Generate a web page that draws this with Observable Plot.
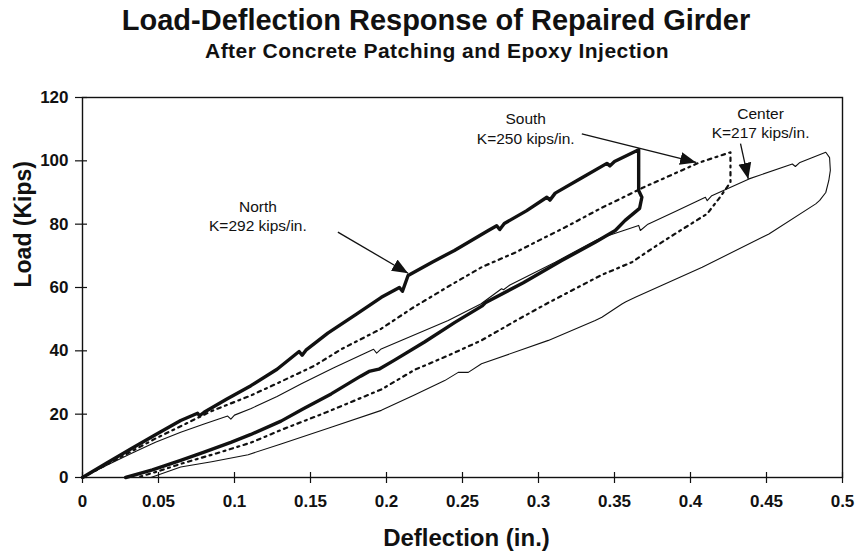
<!DOCTYPE html>
<html>
<head>
<meta charset="utf-8">
<script src="https://cdn.jsdelivr.net/npm/d3@7"></script>
<script src="https://cdn.jsdelivr.net/npm/@observablehq/plot@0.6"></script>
<style>
  html, body { margin: 0; padding: 0; background: #fff; }
  body { width: 858px; height: 560px; position: relative; overflow: hidden; font-family: "Liberation Sans", Arial, sans-serif; color: #111; }
  #head { position: relative; height: 70px; }
  #title { position: absolute; left: 0; width: 872px; top: 6px; text-align: center; font-size: 29px; line-height: 29px; font-weight: bold; }
  #subtitle { position: absolute; left: 0; width: 874px; top: 40px; text-align: center; font-size: 21px; line-height: 21px; font-weight: bold; letter-spacing: 0.45px; }
  #chart svg { display: block; }
</style>
</head>
<body>
<div id="head">
  <div id="title"></div>
  <div id="subtitle"></div>
</div>
<div id="chart"></div>
<script>
const titleText = "Load-Deflection Response of Repaired Girder";
const subtitleText = "After Concrete Patching and Epoxy Injection";
const xLabel = "Deflection (in.)";
const yLabel = "Load (Kips)";

const xTicks = [0, 0.05, 0.1, 0.15, 0.2, 0.25, 0.3, 0.35, 0.4, 0.45, 0.5];
const xTickLabels = ["0", "0.05", "0.1", "0.15", "0.2", "0.25", "0.3", "0.35", "0.4", "0.45", "0.5"];
const yTicks = [0, 20, 40, 60, 80, 100, 120];

// North girder (thick solid): loading branch then unloading branch
const northX = [0, 0.016, 0.032, 0.048, 0.0646, 0.0757, 0.077, 0.080, 0.095, 0.1108, 0.128, 0.1425, 0.1445, 0.147, 0.1614, 0.18, 0.1966, 0.2085, 0.2105, 0.2142, 0.23, 0.2447, 0.267, 0.2725, 0.2745, 0.2775, 0.292, 0.3055, 0.3075, 0.311, 0.328, 0.345, 0.347, 0.350, 0.3659,
  0.3659, 0.368, 0.3665, 0.357, 0.3505, 0.3373, 0.3153, 0.29, 0.265, 0.263, 0.245, 0.225, 0.205, 0.195, 0.1885, 0.183, 0.1636, 0.145, 0.1306, 0.1108, 0.0976, 0.08, 0.0646, 0.046, 0.0284];
const northY = [0, 4.6, 9.1, 13.5, 18, 20.3, 19.5, 20.6, 24.8, 29, 34.2, 39.8, 38.6, 40.2, 45.6, 51.5, 56.9, 60, 58.8, 63.8, 68, 71.7, 78, 79.5, 78.3, 80.2, 84.2, 88.5, 87.6, 89.8, 94.5, 99.2, 98.4, 99.8, 103.5,
  90.6, 88.5, 85, 81.2, 78, 74.3, 68.5, 61.5, 55.2, 54.2, 49, 42.8, 37, 34.2, 33.5, 32, 26.4, 21.6, 17.8, 13.6, 11.1, 8, 5.4, 2.4, 0];

// South girder (dotted)
const southX = [0, 0.016, 0.032, 0.048, 0.0646, 0.085, 0.1108, 0.1306, 0.1526, 0.1702, 0.1966, 0.218, 0.2406, 0.2625, 0.2845, 0.300, 0.3175, 0.3417, 0.3593, 0.3681, 0.3966, 0.4055, 0.4263,
  0.4263, 0.4241, 0.4186, 0.411, 0.390, 0.3747, 0.3615, 0.3417, 0.3065, 0.285, 0.2625, 0.2405, 0.2185, 0.1966, 0.175, 0.16, 0.1306, 0.1108, 0.088, 0.0646, 0.05, 0.036];
const southY = [0, 4.1, 8.2, 12.3, 16.2, 21, 25.9, 30.3, 35.3, 40.5, 47, 53.8, 60.3, 66.4, 71, 74.8, 79, 85.2, 89.3, 91.4, 97.5, 99.4, 102.7,
  93.2, 91.7, 88, 83.3, 77, 72.3, 68, 64, 55.2, 49.5, 43.3, 38.5, 34, 27.8, 23.5, 20.5, 15, 11, 7.6, 4.3, 2, 0];

// Center girder (thin solid)
const centerX = [0, 0.016, 0.032, 0.048, 0.0646, 0.080, 0.0955, 0.0976, 0.100, 0.111, 0.128, 0.144, 0.165, 0.1915, 0.1935, 0.1965, 0.2406, 0.262, 0.2757, 0.277, 0.2812, 0.311, 0.3373, 0.3417, 0.3659, 0.367, 0.372, 0.390, 0.4098, 0.411, 0.414, 0.4385, 0.467, 0.469, 0.472, 0.489,
  0.4915, 0.492, 0.491, 0.489, 0.485, 0.4824, 0.4516, 0.4077, 0.3637, 0.3575, 0.3549, 0.3417, 0.3373, 0.3065, 0.2625, 0.2538, 0.2472, 0.2383, 0.218, 0.1966, 0.1636, 0.1306, 0.109, 0.085, 0.0646, 0.045];
const centerY = [0, 3.9, 7.6, 11.1, 14.3, 16.9, 19.4, 18.4, 19.7, 21.8, 25.6, 29.6, 34.6, 40.5, 39.3, 40.6, 49.6, 54.8, 59.6, 59.3, 60.8, 68, 74.8, 75.7, 79.6, 78, 80, 84, 88.5, 87.4, 89, 94.3, 99, 98.2, 99.5, 102.7,
  101, 97, 93.8, 90, 87.5, 86.4, 76.9, 66.4, 56.9, 55.5, 54.8, 50.6, 49.6, 43.3, 35.9, 33.2, 33.2, 30.6, 26, 21.2, 15.9, 10.6, 7.2, 5, 3.3, 0];

// Annotations (anchored in data units)
const annText = ["North\nK=292 kips/in.", "South\nK=250 kips/in.", "Center\nK=217 kips/in."];
const annX = [0.1154, 0.2916, 0.4461];
const annY = [82.7, 110.4, 112.2];
const arrowX1 = [0.168, 0.3285, 0.4329];
const arrowY1 = [77.5, 108.5, 105.4];
const arrowX2 = [0.2142, 0.4037, 0.438];
const arrowY2 = [64.5, 99.5, 94.3];

document.getElementById("title").textContent = titleText;
document.getElementById("subtitle").textContent = subtitleText;

const toRows = (xs, ys) => xs.map((x, i) => ({x, y: ys[i]}));
const north = toRows(northX, northY);
const south = toRows(southX, southY);
const center = toRows(centerX, centerY);
const ann = annText.map((t, i) => ({t, x: annX[i], y: annY[i]}));
const arrows = arrowX1.map((x1, i) => ({x1, y1: arrowY1[i], x2: arrowX2[i], y2: arrowY2[i]}));

const W = 858, H = 490;
const mL = 82, mR = 16, mT = 27, mB = 83;
const innerW = W - mL - mR, innerH = H - mT - mB;
const ink = "#111";

const headMarker = (color, context) => {
  const m = d3.create("svg:marker")
    .attr("viewBox", "-16 -7 17 14")
    .attr("markerUnits", "userSpaceOnUse")
    .attr("markerWidth", 17)
    .attr("markerHeight", 14)
    .attr("refX", 0)
    .attr("refY", 0)
    .attr("orient", "auto")
    .attr("fill", color)
    .attr("stroke", "none");
  m.append("path").attr("d", "M0,0L-16,-6.5L-16,6.5Z");
  return m.node();
};

const chart = Plot.plot({
  width: W,
  height: H,
  marginLeft: mL,
  marginRight: mR,
  marginTop: mT,
  marginBottom: mB,
  style: {fontFamily: "'Liberation Sans', Arial, sans-serif", color: ink, background: "white", overflow: "visible"},
  x: {domain: [0, 0.5]},
  y: {domain: [0, 120]},
  marks: [
    Plot.line(center, {x: "x", y: "y", stroke: ink, strokeWidth: 1.1}),
    Plot.line(south, {x: "x", y: "y", stroke: ink, strokeWidth: 2.2, strokeDasharray: "2,4.5,3.5,4.5"}),
    Plot.line(north, {x: "x", y: "y", stroke: ink, strokeWidth: 3.4, strokeLinejoin: "round"}),
    Plot.frame({stroke: ink, strokeWidth: 1.4}),
    Plot.tickY(yTicks, {y: d => d, insetLeft: -7, insetRight: innerW - 5, stroke: ink, strokeWidth: 1.2}),
    Plot.tickX(xTicks, {x: d => d, insetTop: innerH - 5, insetBottom: -6, stroke: ink, strokeWidth: 1.2}),
    Plot.axisY(yTicks, {tickSize: 0, tickPadding: 14, fontSize: 17, fontWeight: "bold", label: null}),
    Plot.axisX(xTicks, {tickSize: 0, tickPadding: 17, fontSize: 17, fontWeight: "bold", label: null,
      tickFormat: d => xTickLabels[xTicks.indexOf(d)]}),
    Plot.text([yLabel], {text: d => d, frameAnchor: "left", dx: -59, rotate: -90, fontSize: 23, fontWeight: "bold", fill: ink}),
    Plot.text([xLabel], {text: d => d, frameAnchor: "bottom", dx: 4, dy: 68, fontSize: 24, fontWeight: "bold", fill: ink, letterSpacing: "0.6px"}),
    Plot.link(arrows, {x1: "x1", y1: "y1", x2: "x2", y2: "y2", stroke: ink, strokeWidth: 1.3, markerEnd: headMarker}),
    Plot.text(ann, {x: "x", y: "y", text: "t", fontSize: 15.5, lineHeight: 1.25, fill: ink})
  ]
});
document.getElementById("chart").appendChild(chart);
</script>
</body>
</html>
